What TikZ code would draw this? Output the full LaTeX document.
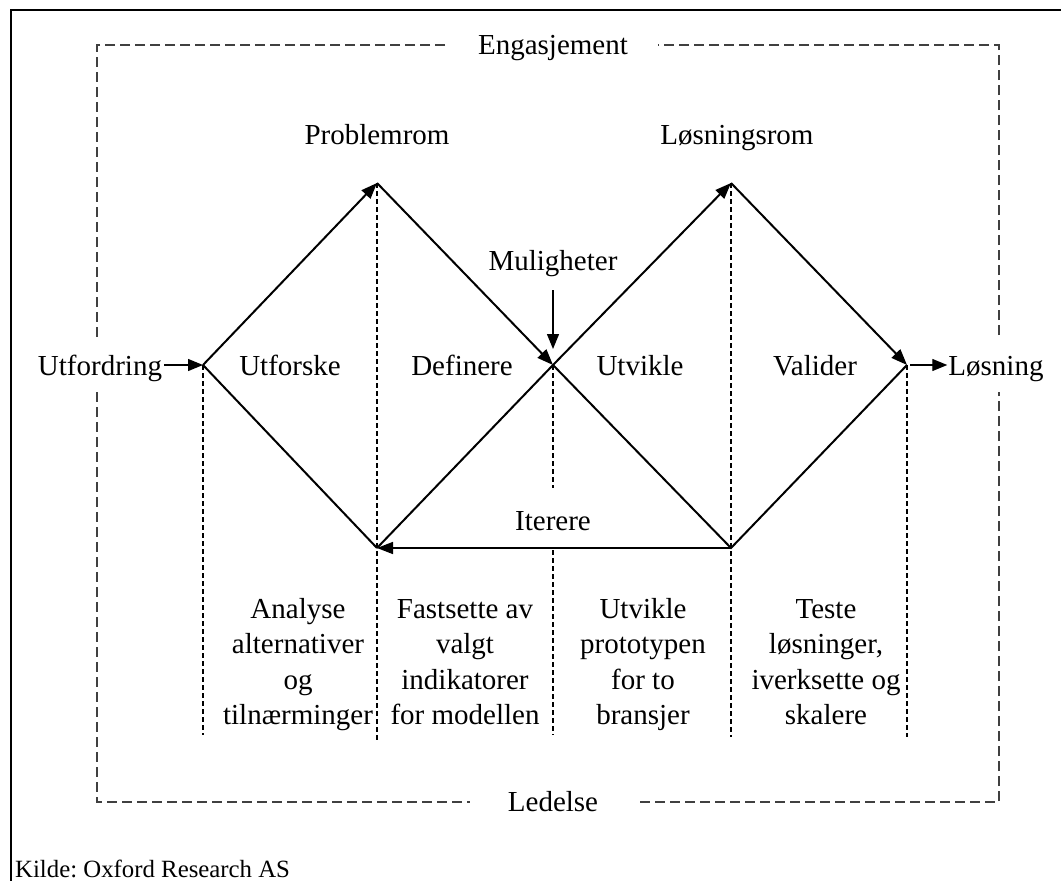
\documentclass[tikz,border=0pt]{standalone}
\usepackage{fontspec}
\setmainfont{Liberation Serif}
\usetikzlibrary{arrows.meta}
\frenchspacing
\begin{document}
\begin{tikzpicture}[x=1pt,y=-1pt,
  lbl/.style={font=\fontsize{29}{35.5}\selectfont, inner sep=0pt, anchor=base},
  desc/.style={font=\fontsize{29}{35.5}\selectfont, inner sep=0pt, anchor=north, align=center},
  edgeline/.style={line width=2pt},
  bigtip/.style={-{Triangle[length=16pt,width=12pt]}},
  smalltip/.style={line width=1.3pt,-{Triangle[length=15pt,width=12pt]}},
  guide/.style={line width=1.1pt, dash pattern=on 5pt off 3pt},
  dashframe/.style={line width=1.3pt, draw=black!75, dash pattern=on 10pt off 5pt},
  ]
\useasboundingbox (0,0) rectangle (1061,881);
% outer frame
\draw[line width=2pt] (11,890) -- (11,10) -- (1070,10);

% diamond vertices
\coordinate (L) at (203,365);
\coordinate (T1) at (377,183);
\coordinate (B1) at (377,548);
\coordinate (M) at (553,365);
\coordinate (T2) at (731,183);
\coordinate (B2) at (731,548);
\coordinate (R) at (907,365);

% dashed frame corners
\coordinate (FTL) at (97,45);
\coordinate (FTR) at (999,45);
\coordinate (FBR) at (999,802);
\coordinate (FBL) at (97,802);

% guide lines
\draw[guide] (L) -- (203,735);
\draw[guide] (T1) -- (377,740);
\draw[guide] (M) -- (553,488);
\draw[guide] (553,550) -- (553,735);
\draw[guide] (T2) -- (731,737);
\draw[guide] (R) -- (907,737);

% labels
\node[lbl] (eng) at (553,54) {Engasjement};
\node[lbl] (led) at (553,811) {Ledelse};
\node[lbl] (prob) at (377,144) {Problemrom};
\node[lbl] (lrom) at (737,144) {Løsningsrom};
\node[lbl] (mul) at (553,270) {Muligheter};
\node[lbl] (utf) at (100,375) {Utfordring};
\node[lbl] (los) at (996,375) {Løsning};
\node[lbl] (p1) at (290,375) {Utforske};
\node[lbl] (p2) at (462,375) {Definere};
\node[lbl] (p3) at (640,375) {Utvikle};
\node[lbl] (p4) at (815,375) {Valider};
\node[lbl] (it) at (553,530) {Iterere};

\node[desc] (d1) at (298,593) {\strut Analyse\\alternativer\\og\\tilnærminger};
\node[desc] (d2) at (465,593) {\strut Fastsette av\\valgt\\indikatorer\\for modellen};
\node[desc] (d3) at (643,593) {\strut Utvikle\\prototypen\\for to\\bransjer};
\node[desc] (d4) at (826,593) {\strut Teste\\løsninger,\\iverksette og\\skalere};

\node[font=\fontsize{24.8}{30}\selectfont, inner sep=0pt, anchor=base west] (kilde) at (15,877) {Kilde: Oxford Research AS};

% dashed frame
\draw[dashframe] (445,45) -- (FTL) -- (97,338);
\draw[dashframe] (97,392) -- (FBL) -- (470,802);
\draw[dashframe] (640,802) -- (FBR) -- (999,392);
\draw[dashframe] (999,335) -- (FTR) -- (658,45);

% diamond edges
\draw[edgeline] (L) -- (B1);
\draw[edgeline] (M) -- (B2) -- (R);
\draw[edgeline,bigtip] (L) -- (T1);
\draw[edgeline,bigtip] (T1) -- (M);
\draw[edgeline,bigtip] (B1) -- (M) -- (T2);
\draw[edgeline,bigtip] (T2) -- (R);
\draw[line width=1.5pt,bigtip] (B2) -- (B1);

% small arrows
\draw[smalltip] ([xshift=2pt]utf.east |- L) -- (L);
\draw[smalltip] ([xshift=3pt]R) -- ([xshift=-1pt]los.west |- R);
\coordinate (mtip) at (553,349);
\draw[smalltip] ([yshift=-14pt]mul.south) -- (mtip);
\end{tikzpicture}
\end{document}
